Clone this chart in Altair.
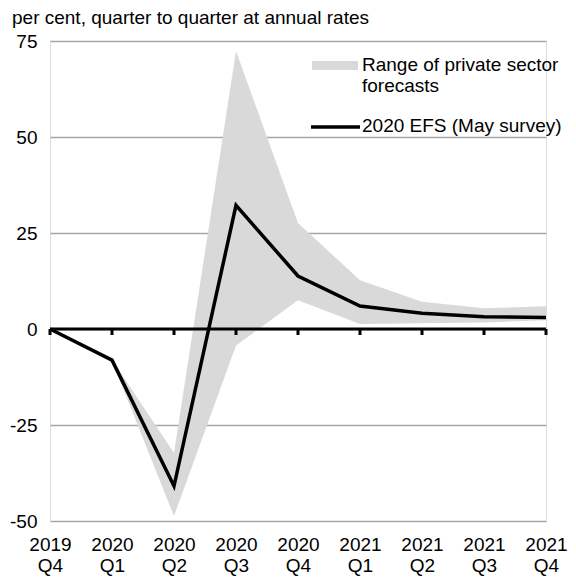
import altair as alt
import pandas as pd

quarters = ["2019 Q4", "2020 Q1", "2020 Q2", "2020 Q3", "2020 Q4",
            "2021 Q1", "2021 Q2", "2021 Q3", "2021 Q4"]
efs_may = [0.0, -8.1, -40.9, 32.2, 13.8, 6.0, 4.1, 3.2, 3.0]
range_low = [0.0, -8.3, -48.7, -4.3, 7.5, 1.3, 1.5, 1.7, 2.3]
range_high = [0.0, -8.0, -32.3, 72.4, 27.6, 12.7, 7.1, 5.4, 5.9]
y_ticks = [-50, -25, 0, 25, 50, 75]

unit_title = "per cent, quarter to quarter at annual rates"
legend_range = "Range of private sector\nforecasts"
legend_line = "2020 EFS (May survey)"

FONT = "Liberation Sans"
FS = 19
AREA_COL = "#d9d9d9"

df = pd.DataFrame({"q": quarters, "efs": efs_may, "lo": range_low, "hi": range_high})
one = pd.DataFrame({"k": [0]})

xs = alt.Scale(type="point", padding=0, domain=quarters)
ys = alt.Scale(domain=[-50, 75], nice=False, zero=False)

x_enc = alt.X("q:O", scale=xs, sort=quarters,
              axis=alt.Axis(title=None, labelAngle=0, domain=False, ticks=False, grid=False,
                            labelExpr="split(datum.label, ' ')", labelPadding=14,
                            labelLineHeight=21, labelFont=FONT, labelFontSize=FS,
                            labelColor="black"))

base = alt.Chart(df)

area = base.mark_area(color=AREA_COL, opacity=1).encode(
    x=x_enc,
    y=alt.Y("lo:Q", scale=ys,
            axis=alt.Axis(title=None, values=y_ticks, domain=False, ticks=False,
                          grid=True, gridColor="#a6a6a6", gridWidth=1.5,
                          labelExpr="'' + datum.value",
                          labelPadding=13, labelFont=FONT, labelFontSize=FS,
                          labelColor="black")),
    y2="hi:Q",
)

zero = alt.Chart(one).mark_rule(color="black", strokeWidth=3).encode(y=alt.datum(0))

ticks = base.mark_rule(color="black", strokeWidth=3, y2Offset=6).encode(
    x=alt.X("q:O", scale=xs, sort=quarters),
    y=alt.datum(0),
    y2=alt.datum(0),
)

line = base.mark_line(color="black", strokeWidth=3.5).encode(
    x=alt.X("q:O", scale=xs, sort=quarters),
    y=alt.Y("efs:Q", scale=ys),
)

title_txt = alt.Chart(one).mark_text(
    text=unit_title, align="left", baseline="alphabetic", font=FONT, fontSize=FS, color="black"
).encode(x=alt.value(-38), y=alt.value(-17))

leg_rect = alt.Chart(one).mark_rect(color=AREA_COL).encode(
    x=alt.value(262), x2=alt.value(308), y=alt.value(20), y2=alt.value(29))
leg_text1 = alt.Chart(one).mark_text(
    text=legend_range, lineBreak="\n", lineHeight=21, align="left", baseline="alphabetic",
    font=FONT, fontSize=FS, color="black"
).encode(x=alt.value(312), y=alt.value(30))
leg_line = alt.Chart(one).mark_rule(color="black", strokeWidth=3.5).encode(
    x=alt.value(261), x2=alt.value(310), y=alt.value(86))
leg_text2 = alt.Chart(one).mark_text(
    text=legend_line, align="left", baseline="alphabetic",
    font=FONT, fontSize=FS, color="black"
).encode(x=alt.value(312), y=alt.value(91))

chart = alt.layer(area, zero, ticks, line, title_txt, leg_rect, leg_text1, leg_line, leg_text2).properties(
    width=496, height=480,
    autosize=alt.AutoSizeParams(type="none"),
    padding={"left": 42, "top": 33, "right": 22, "bottom": 55},
).configure_view(stroke=None).configure(background="white")

chart.save("out.html", embed_options={"renderer": "svg", "actions": False})
